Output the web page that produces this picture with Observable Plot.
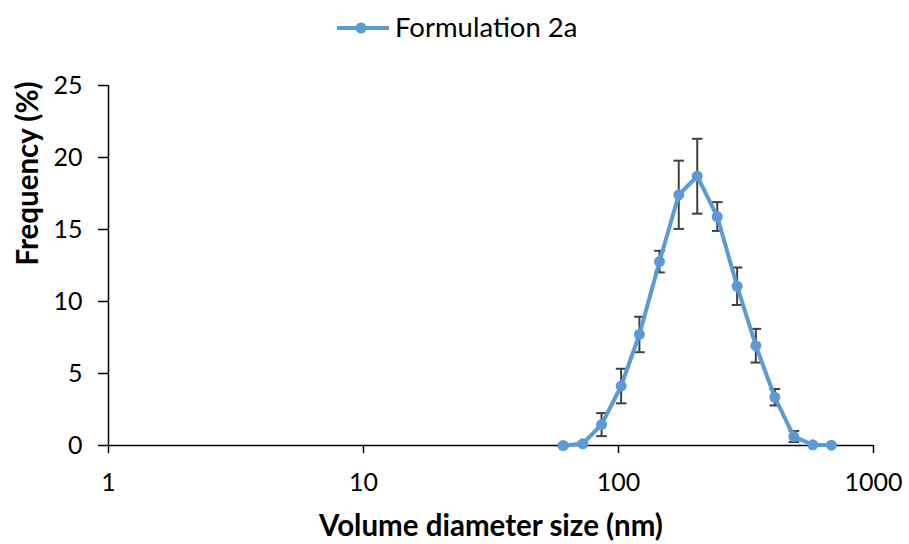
<!DOCTYPE html>
<html>
<head>
<meta charset="utf-8">
<script src="https://cdn.jsdelivr.net/npm/d3@7"></script>
<script src="https://cdn.jsdelivr.net/npm/@observablehq/plot@0.6"></script>
<style>
  body { margin: 0; background: #fff; font-family: Lato, "Open Sans", sans-serif; }
  #wrap { width: 909px; }
  #legend { height: 56px; position: relative; }
  #legend svg { position: absolute; left: 330px; top: 12px; }
  #legend span { position: absolute; left: 395px; top: 12px; font-size: 27.5px; color: #000; line-height: 30px; }
</style>
</head>
<body>
<div id="wrap">
  <div id="legend">
    <svg width="64" height="30"><line x1="7" y1="16" x2="59" y2="16" stroke="#5B9BD5" stroke-width="4"/><circle cx="31" cy="16" r="5.5" fill="#5B9BD5"/></svg>
    <span>Formulation 2a</span>
  </div>
  <div id="chart"></div>
</div>
<script>
const seriesName = "Formulation 2a";
const sizes = [60.7, 72.4, 85.8, 102.4, 120.8, 144.8, 172.3, 203.6, 243.9, 291.9, 345.6, 410.3, 487.2, 578, 684];
const freq  = [0.0, 0.12, 1.45, 4.13, 7.71, 12.77, 17.41, 18.70, 15.90, 11.06, 6.93, 3.35, 0.62, 0.05, 0.02];
const errs  = [0.1, 0.1, 0.8, 1.2, 1.23, 0.75, 2.37, 2.6, 1.0, 1.3, 1.17, 0.57, 0.38, 0, 0];
const xTicks = [1, 10, 100, 1000];
const yTicks = [0, 5, 10, 15, 20, 25];
const xLabel = "Volume diameter size (nm)";
const yLabel = "Frequency (%)";

const data = sizes.map((s, i) => ({size: s, freq: freq[i], lo: freq[i] - errs[i], hi: freq[i] + errs[i], err: errs[i]}));
const withErr = data.filter(d => d.err > 0);

const capSymbol = {
  draw(context, size) {
    const w = Math.sqrt(size) / 2;
    context.moveTo(-w, 0);
    context.lineTo(w, 0);
  }
};

const chart = Plot.plot({
  width: 909,
  height: 488,
  marginLeft: 108,
  marginRight: 36,
  marginTop: 29,
  marginBottom: 99,
  style: {fontFamily: "Lato, 'Open Sans', sans-serif", fontSize: "25px", color: "#000", background: "#fff"},
  x: {type: "log", domain: [1, 1000], label: null},
  y: {domain: [0, 25], label: null},
  marks: [
    Plot.axisX({ticks: xTicks, tickFormat: d => String(d), tickSize: 8, tickPadding: 20, label: null, fontSize: 25, stroke: "#000", strokeWidth: 1.5}),
    Plot.axisY({ticks: yTicks, tickSize: 10, tickPadding: 16, label: null, fontSize: 25, stroke: "#000", strokeWidth: 1.5}),
    Plot.ruleY([0], {stroke: "#000", strokeWidth: 1.5}),
    Plot.ruleX([1], {stroke: "#000", strokeWidth: 1.5}),
    Plot.ruleX(withErr, {x: "size", y1: "lo", y2: "hi", stroke: "#404040", strokeWidth: 2}),
    Plot.dot(withErr, {x: "size", y: "hi", symbol: capSymbol, r: 6, stroke: "#404040", strokeWidth: 2, fill: "none"}),
    Plot.dot(withErr, {x: "size", y: "lo", symbol: capSymbol, r: 6, stroke: "#404040", strokeWidth: 2, fill: "none"}),
    Plot.line(data, {x: "size", y: "freq", stroke: "#5B9BD5", strokeWidth: 4}),
    Plot.dot(data, {x: "size", y: "freq", r: 5.5, fill: "#5B9BD5"}),
    Plot.text([xLabel], {frameAnchor: "bottom", dy: 90, fontWeight: "bold", fontSize: 29.5, fill: "#000"}),
    Plot.text([yLabel], {frameAnchor: "left", dx: -80, rotate: -90, fontWeight: "bold", fontSize: 29.5, fill: "#000"})
  ]
});
document.getElementById("chart").appendChild(chart);
</script>
</body>
</html>
